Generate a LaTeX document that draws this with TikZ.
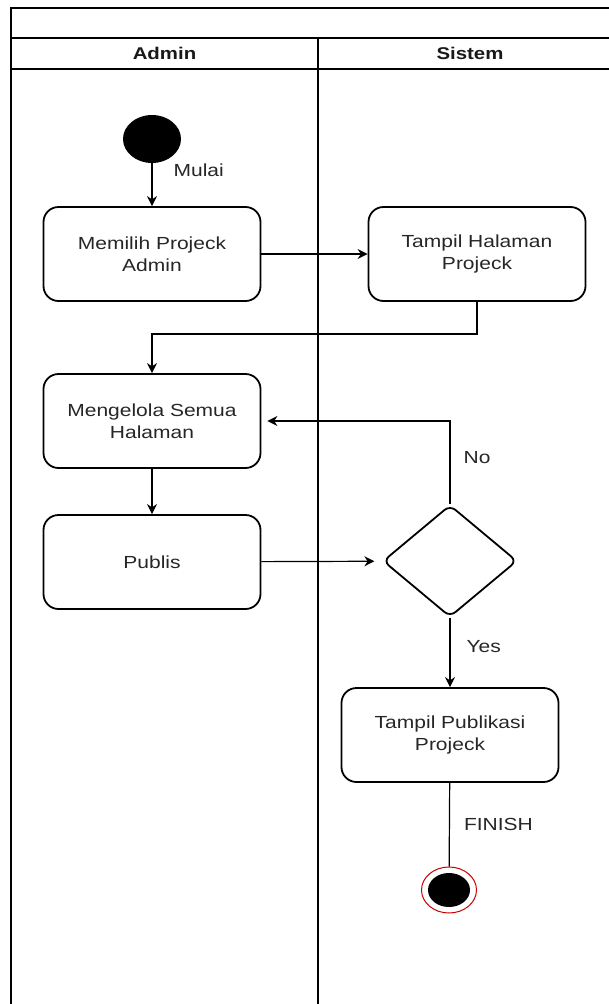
\documentclass[tikz,border=0pt]{standalone}
\usepackage{fontspec}
\setmainfont{Liberation Sans}[FakeStretch=1.2]
\usetikzlibrary{shapes.geometric,arrows.meta,positioning}

\tikzstyle{lane} = [draw,line width=1.4pt]
\tikzstyle{lanetitle} = [font=\bfseries\fontsize{17}{20}\selectfont,text=black!90]
\tikzstyle{activity} = [draw,line width=1.8pt,rounded corners=15pt,minimum width=217pt,minimum height=94pt,inner sep=0pt,align=center,font=\fontsize{17.5}{22}\selectfont,text=black!85]
\tikzstyle{decision} = [diamond,draw,line width=1.8pt,rounded corners=7pt,minimum width=134pt,minimum height=112pt,aspect=1.2,inner sep=0pt]
\tikzstyle{startnode} = [ellipse,fill=black,minimum width=58pt,minimum height=48pt,inner sep=0pt]
\tikzstyle{endring} = [ellipse,draw=red!80!black,line width=1pt,minimum width=55pt,minimum height=46pt,inner sep=0pt]
\tikzstyle{endcore} = [ellipse,fill=black,minimum width=42pt,minimum height=34pt,inner sep=0pt]
\tikzstyle{flow} = [draw,line width=1.2pt,-{Stealth[length=10pt,width=10pt]}]
\tikzstyle{plain} = [draw,line width=1.2pt,-]
\tikzstyle{guard} = [font=\fontsize{17.5}{22}\selectfont,text=black!85,anchor=west,inner sep=0pt]

\begin{document}
\begin{tikzpicture}[x=1pt,y=-1pt]
      \useasboundingbox (0,0) rectangle (609,1004);
      \clip (0,0) rectangle (609,1004);
      %lanes
      \draw[lane] (630,8) -- (11,8) -- (11,1010);
      \draw[lane] (11,38) -- (630,38);
      \draw[lane] (11,69) -- (630,69);
      \draw[lane] (318,38) -- (318,1010);
      \node[lanetitle] (admin) at (164.5,53) {Admin};
      \node[lanetitle] (sistem) at (470,53) {Sistem};

      %nodes
      \node[startnode] (start) at (152,139) {};
      \foreach \nodename/\x/\y/\txt in {
        memilih/152/254/{Memilih Projeck\\Admin}, tampilhal/477/254/{Tampil Halaman\\Projeck},
        mengelola/152/421/{Mengelola Semua\\Halaman}, publis/152/562/Publis,
        tampilpub/450/735/{Tampil Publikasi\\Projeck}}
      {
        \node[activity] (\nodename) at (\x,\y) {\txt};
      };
      \node[decision] (choice) at (450,561) {};
      \node[endring] (finish) at (449,890) {};
      \node[endcore] (finishcore) at (finish) {};

      %edges
      \path
      (start) edge[flow] node[guard,pos=0.16,xshift=21pt] (mulai) {Mulai} (memilih);
      \path
      \foreach \startnode/\endnode in {memilih/tampilhal, mengelola/publis}
      {
        (\startnode) edge[flow] (\endnode)
      };
      \path (publis) edge[flow,shorten >=8pt] (choice);
      \path (choice) edge[flow] node[guard,pos=0.41,xshift=16pt] (yes) {Yes} (tampilpub);
      \path (tampilpub) edge[plain] node[guard,pos=0.5,xshift=14pt] (finishtxt) {FINISH} (finish);
      \draw[flow] (tampilhal.south) -- ++(0,32) -| (mengelola.north);
      \draw[flow,shorten >=6pt] (choice.north) |- node[guard,pos=0.28,xshift=13pt] (no) {No} (mengelola.east);
    \end{tikzpicture}
\end{document}
